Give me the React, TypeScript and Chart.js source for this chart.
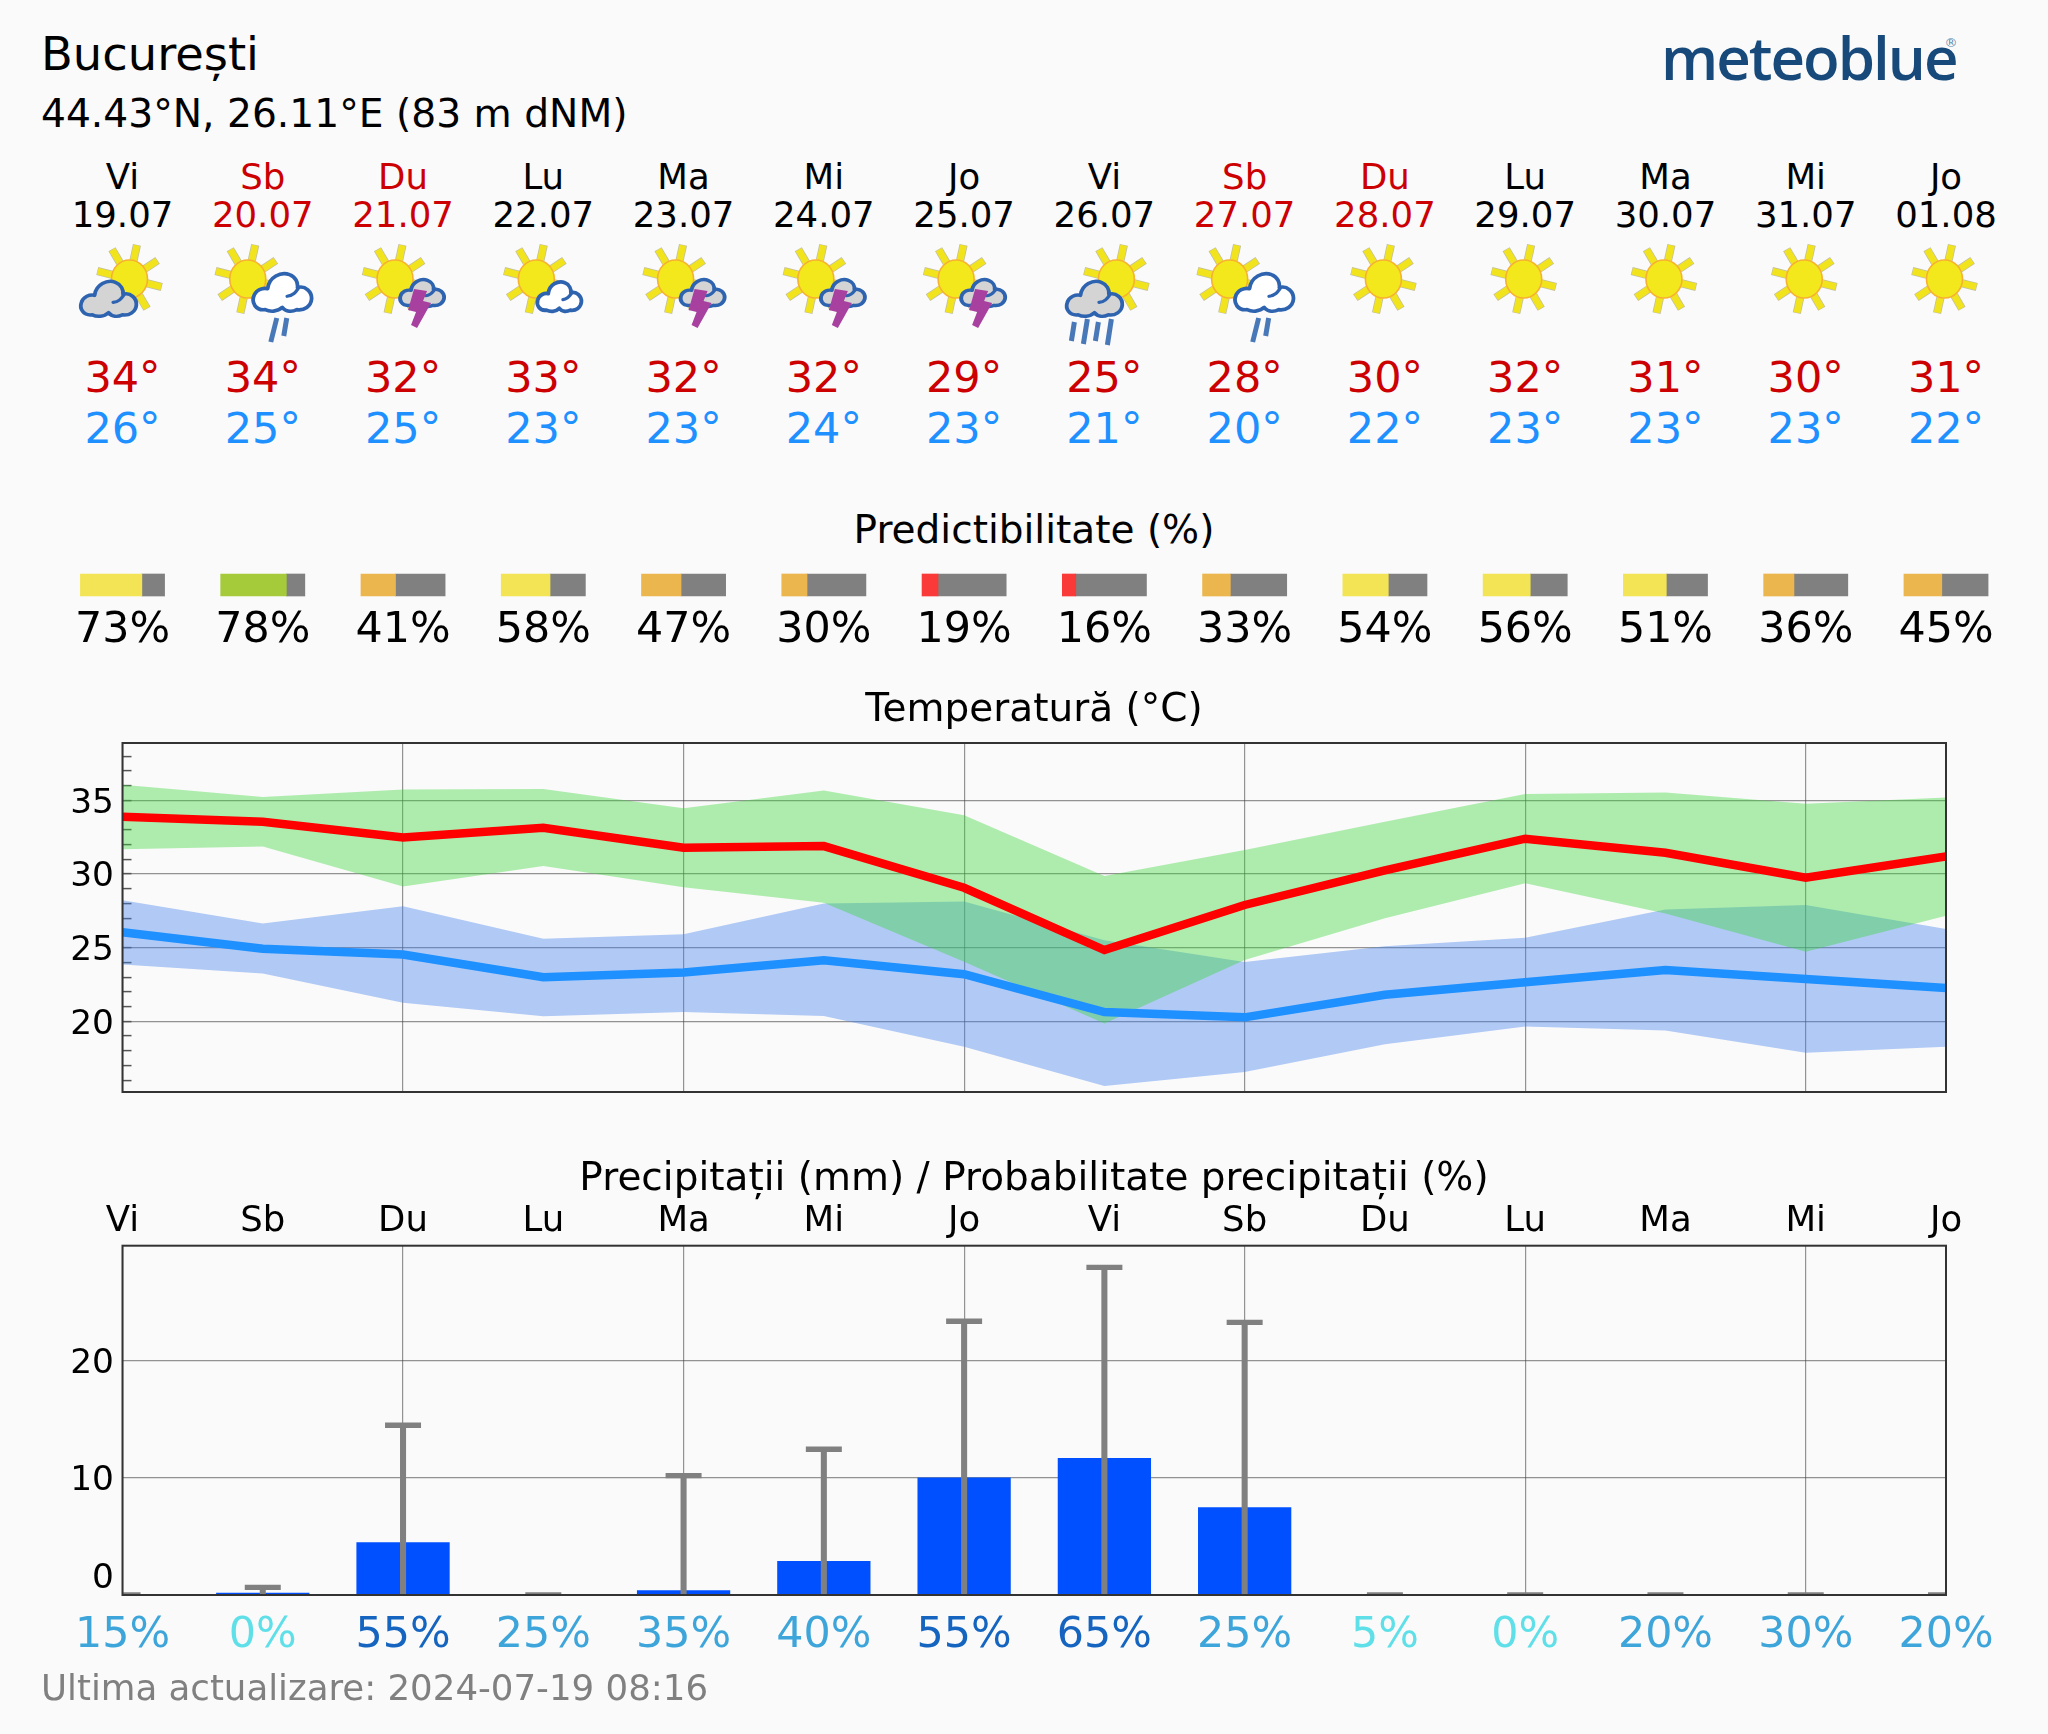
import React, { useEffect, useRef } from "react";
import { Chart, registerables } from "chart.js";

Chart.register(...registerables);

const dayNames = ["Vi", "Sb", "Du", "Lu", "Ma", "Mi", "Jo", "Vi", "Sb", "Du", "Lu", "Ma", "Mi", "Jo"];
const dates = ["19.07", "20.07", "21.07", "22.07", "23.07", "24.07", "25.07", "26.07", "27.07", "28.07", "29.07", "30.07", "31.07", "01.08"];
const highLabels = [34, 34, 32, 33, 32, 32, 29, 25, 28, 30, 32, 31, 30, 31];
const lowLabels = [26, 25, 25, 23, 23, 24, 23, 21, 20, 22, 23, 23, 23, 22];
const icons = ["c", "r", "t", "w", "t", "t", "t", "R", "r", "s", "s", "s", "s", "s"];
const predictability = [73, 78, 41, 58, 47, 30, 19, 16, 33, 54, 56, 51, 36, 45];

const tempMax = [33.9, 33.55, 32.48, 33.15, 31.79, 31.9, 29.07, 24.84, 27.9, 30.25, 32.4, 31.45, 29.75, 31.2];
const tempMaxHigh = [36.07, 35.24, 35.75, 35.78, 34.47, 35.68, 34.0, 29.86, 31.63, 33.55, 35.43, 35.54, 34.77, 35.2];
const tempMaxLow = [31.68, 31.87, 29.16, 30.55, 29.1, 28.05, 24.05, 19.86, 24.16, 27.0, 29.37, 27.33, 24.73, 27.17];
const tempMin = [26.05, 24.93, 24.53, 23.0, 23.32, 24.14, 23.2, 20.63, 20.27, 21.8, 22.65, 23.48, 22.87, 22.26];
const tempMinHigh = [28.22, 26.64, 27.82, 25.6, 25.92, 28.0, 28.14, 25.5, 24.03, 25.1, 25.68, 27.6, 27.9, 26.27];
const tempMinLow = [23.86, 23.24, 21.26, 20.35, 20.64, 20.36, 18.28, 15.6, 16.56, 18.44, 19.64, 19.37, 17.87, 18.28];
const tempTicks = [16, 17, 18, 19, 20, 21, 22, 23, 24, 25, 26, 27, 28, 29, 30, 31, 32, 33, 34, 35, 36, 37, 38];

const precipMm = [0, 0.2, 4.5, 0, 0.4, 2.9, 10.05, 11.7, 7.5, 0, 0, 0, 0, 0];
const precipMax = [0, 0.65, 14.5, 0, 10.2, 12.45, 23.4, 28, 23.3, 0, 0, 0, 0, 0];
const precipTicks = [0, 10, 20];
const rainChance = [15, 0, 55, 25, 35, 40, 55, 65, 25, 5, 0, 20, 30, 20];

const BG = "#fafafa";
const FONT = '"DejaVu Sans"';
const LEFT = 122.5;
const RIGHT = 1946;
const STEP = (RIGHT - LEFT) / 13;
const dayX = (i: number) => LEFT + STEP * i;

const predictColor = (p: number) => (p >= 75 ? "#a5cb3b" : p >= 50 ? "#f2e454" : p >= 25 ? "#ecb64e" : "#f93a38");
const chanceColor = (p: number) => (p <= 10 ? "#5fdfe8" : p < 50 ? "#3da5da" : "#1565c0");

const framePlugin = {
  id: "frame",
  afterDraw(chart: any) {
    const { ctx, chartArea: a } = chart;
    ctx.save();
    ctx.strokeStyle = "#333";
    ctx.lineWidth = 2;
    ctx.strokeRect(a.left, a.top, a.right - a.left, a.bottom - a.top);
    ctx.restore();
  },
};

function useChart(make: (c: HTMLCanvasElement) => Chart) {
  const ref = useRef<HTMLCanvasElement | null>(null);
  useEffect(() => {
    const chart = make(ref.current as HTMLCanvasElement);
    return () => chart.destroy();
  }, []);
  return ref;
}

const base = { responsive: false, animation: false as const, plugins: { legend: { display: false }, tooltip: { enabled: false } } };

function PredictChart() {
  const top = 560;
  const height = 100;
  const ref = useChart(
    (c) =>
      new Chart(c, {
        type: "bar",
        data: {
          labels: [""],
          datasets: predictability.flatMap((p, i) => [
            { data: [[i - 0.3, i - 0.3 + 0.6 * (p / 100)]], backgroundColor: predictColor(p), grouped: false, barPercentage: 1, categoryPercentage: 1, clip: false },
            { data: [[i - 0.3 + 0.6 * (p / 100), i + 0.3]], backgroundColor: "#808080", grouped: false, barPercentage: 1, categoryPercentage: 1, clip: false },
          ]) as any,
        },
        options: {
          ...base,
          indexAxis: "y",
          layout: { autoPadding: false, padding: { top: 574 - top, left: LEFT - STEP / 2, right: 2048 - RIGHT - STEP / 2, bottom: 0 } },
          scales: {
            x: {
              type: "linear",
              min: -0.5,
              max: 13.5,
              grid: { display: false },
              border: { display: false },
              afterBuildTicks: (s: any) => {
                s.ticks = predictability.map((_, i) => ({ value: i }));
              },
              afterFit: (s: any) => {
                s.height = height - (596 - top);
              },
              ticks: { autoSkip: false, maxRotation: 0, padding: 1.5, color: "#000", font: { family: FONT, size: 42.8 }, callback: (v: any) => `${predictability[v]}%` },
            },
            y: { display: false },
          },
        } as any,
      })
  );
  return <canvas ref={ref} width={2048} height={height} style={{ position: "absolute", left: 0, top }} />;
}

function TempChart() {
  const top = 690;
  const height = 450;
  const band = (data: number[], color: string, order: number, fill: any) => ({
    data,
    xAxisID: "x",
    borderWidth: 0,
    pointRadius: 0,
    backgroundColor: color,
    fill,
    order,
    tension: 0,
    clip: 0,
  });
  const line = (data: number[], color: string, order: number) => ({
    data,
    xAxisID: "x",
    borderColor: color,
    borderWidth: 8.5,
    borderJoinStyle: "miter",
    pointRadius: 0,
    fill: false,
    order,
    tension: 0,
    clip: 0,
  });
  const ref = useChart(
    (c) =>
      new Chart(c, {
        type: "line",
        data: {
          labels: dayNames,
          datasets: [
            band(tempMinHigh, "rgba(65,127,237,0.4)", 6, "+1"),
            band(tempMinLow, "rgba(65,127,237,0)", 5, false),
            band(tempMaxHigh, "rgba(60,215,60,0.4)", 4, "+1"),
            band(tempMaxLow, "rgba(60,215,60,0)", 3, false),
            line(tempMax, "#ff0000", 2),
            line(tempMin, "#1e90ff", 1),
          ] as any,
        },
        options: {
          ...base,
          layout: { autoPadding: false, padding: { top: 0, right: 2048 - RIGHT, bottom: 0, left: 0 } },
          scales: {
            x: {
              offset: false,
              border: { display: false },
              ticks: { display: false, autoSkip: false },
              grid: { offset: false, drawTicks: false, color: (ctx: any) => (ctx.index % 2 === 0 ? "rgba(60,60,60,0.55)" : "rgba(0,0,0,0)"), lineWidth: 1.2 },
              afterFit: (s: any) => {
                s.height = top + height - 1092;
              },
            },
            xTop: {
              type: "category",
              position: "top",
              labels: dayNames,
              offset: false,
              border: { display: false },
              ticks: { display: false },
              grid: { display: false, drawTicks: false },
              afterFit: (s: any) => {
                s.height = 743 - top;
              },
            },
            y: {
              min: 15.2,
              max: 38.9,
              border: { display: false },
              afterBuildTicks: (s: any) => {
                s.ticks = tempTicks.map((value) => ({ value }));
              },
              afterFit: (s: any) => {
                s.width = LEFT;
              },
              grid: {
                tickLength: -9,
                tickWidth: 1.5,
                tickColor: "#555",
                lineWidth: 1.2,
                color: (ctx: any) => (ctx.tick && ctx.tick.value % 5 === 0 ? "rgba(60,60,60,0.55)" : "rgba(0,0,0,0)"),
              },
              ticks: {
                autoSkip: false,
                padding: 17.5,
                color: "#000",
                font: { family: FONT, size: 34.4, lineHeight: "7px" },
                callback: (v: any) => (v % 5 === 0 ? ["", String(v)] : ""),
              },
            },
          },
        } as any,
        plugins: [framePlugin],
      })
  );
  return <canvas ref={ref} width={2048} height={height} style={{ position: "absolute", left: 0, top }} />;
}

function PrecipChart() {
  const top = 1190;
  const height = 480;
  const ref = useChart(
    (c) =>
      new Chart(c, {
        type: "bar",
        data: {
          labels: dayNames,
          datasets: [
            { data: precipMm, backgroundColor: "#0050ff", grouped: false, barPercentage: 0.665, categoryPercentage: 1, order: 3, clip: 0 },
            { data: precipMax.map((v) => [0, v]), backgroundColor: "#808080", grouped: false, barThickness: 5.4, order: 2, clip: 0 },
            { type: "line", data: precipMax, showLine: false, pointStyle: "line", pointRadius: 18, pointBorderWidth: 5.4, pointBorderColor: "#808080", order: 1, clip: 0 },
          ] as any,
        },
        options: {
          ...base,
          layout: { autoPadding: false, padding: { right: 2048 - RIGHT, left: 0, top: 0, bottom: 0 } },
          scales: {
            x: {
              position: "top",
              offset: false,
              border: { display: false },
              grid: { offset: false, drawTicks: false, color: (ctx: any) => (ctx.index % 2 === 0 ? "rgba(60,60,60,0.55)" : "rgba(0,0,0,0)"), lineWidth: 1.2 },
              ticks: { autoSkip: false, maxRotation: 0, padding: 3, color: "#000", font: { family: FONT, size: 35.5 } },
              afterFit: (s: any) => {
                s.height = 1245.7 - top;
              },
            },
            x2: {
              type: "category",
              position: "bottom",
              offset: false,
              labels: rainChance.map((p) => `${p}%`),
              border: { display: false },
              grid: { display: false, drawTicks: false },
              ticks: { autoSkip: false, maxRotation: 0, padding: 15, color: (ctx: any) => chanceColor(rainChance[ctx.index]), font: { family: FONT, size: 42.8 } },
              afterFit: (s: any) => {
                s.height = top + height - 1595;
              },
            },
            y: {
              min: 0,
              max: 29.85,
              border: { display: false },
              afterBuildTicks: (s: any) => {
                s.ticks = precipTicks.map((value) => ({ value }));
              },
              afterFit: (s: any) => {
                s.width = LEFT;
              },
              grid: { drawTicks: false, lineWidth: 1.2, color: "rgba(60,60,60,0.55)" },
              ticks: {
                autoSkip: false,
                padding: 8.5,
                color: "#000",
                font: (ctx: any) => ({ family: FONT, size: 34.4, lineHeight: ctx.tick && ctx.tick.value === 0 ? "32px" : "7px" }),
                callback: (v: any) => (v === 0 ? ["0", ""] : ["", String(v)]),
              },
            },
          },
        } as any,
        plugins: [framePlugin],
      })
  );
  return <canvas ref={ref} width={2048} height={height} style={{ position: "absolute", left: 0, top }} />;
}

function T({ x, y, children, size = 35.5, color = "#000", align = "center", style = {} }: any) {
  const tx = align === "center" ? "-50%" : "0";
  return (
    <div style={{ position: "absolute", left: x, top: y, transform: `translate(${tx},-50%)`, fontFamily: FONT, fontSize: size, color, lineHeight: 1, whiteSpace: "nowrap", ...style }}>
      {children}
    </div>
  );
}

const SUN_Y = 279;
const RAY_ANGLES = [13, 58, 103, 148, 193, 238, 283, 328];

function Sun({ cx }: { cx: number }) {
  const ray = (a: number, stroke: string, w: number, grow: number) => {
    const r = (a * Math.PI) / 180;
    return (
      <line
        key={`${a}-${stroke}`}
        x1={cx + Math.cos(r) * 18}
        y1={SUN_Y + Math.sin(r) * 19}
        x2={cx + Math.cos(r) * (32.5 + grow)}
        y2={SUN_Y + Math.sin(r) * (34.5 + grow)}
        stroke={stroke}
        strokeWidth={w}
      />
    );
  };
  return (
    <g>
      {RAY_ANGLES.map((a) => ray(a, "#c4c09a", 8.2, 0.6))}
      {RAY_ANGLES.map((a) => ray(a, "#f2e41e", 6.6, 0))}
      <ellipse cx={cx} cy={SUN_Y} rx={18} ry={19} fill="#f2e81a" stroke="#f8b030" strokeWidth={1.6} />
    </g>
  );
}

function Cloud({ x, y, w, h, fill }: { x: number; y: number; w: number; h: number; fill: string }) {
  const sw = 100 / w;
  const k = h / 72;
  const s = w / 100;
  return (
    <g transform={`translate(${x},${y}) scale(${s},${k})`}>
      <path
        d="M22 68 C6 70 0 56 3 46 C6 34 18 30 26 32 C28 12 48 2 62 8 C72 12 76 22 75 30 C88 26 99 38 98 50 C97 62 86 70 74 68 C66 72 56 72 50 64 C42 72 30 72 22 68 Z"
        fill={fill}
        stroke="#2f63b0"
        strokeWidth={3.8 * sw}
        strokeLinejoin="round"
      />
      <path d="M76 32 C72 38 68 44 58 45" fill="none" stroke="#2f63b0" strokeWidth={3.4 * sw} strokeLinecap="round" />
    </g>
  );
}

function Rain({ lines }: { lines: number[][] }) {
  return (
    <g>
      {lines.map((l, i) => (
        <line key={i} x1={l[0]} y1={l[1]} x2={l[2]} y2={l[3]} stroke="#4a78b8" strokeWidth={5} />
      ))}
    </g>
  );
}

function WeatherIcon({ kind, cx }: { kind: string; cx: number }) {
  if (kind === "c")
    return (
      <g>
        <Sun cx={cx + 7} />
        <Cloud x={cx - 43} y={278} w={58} h={39} fill="#d4d4d4" />
      </g>
    );
  if (kind === "R")
    return (
      <g>
        <Sun cx={cx + 12} />
        <Cloud x={cx - 39} y={278} w={58} h={39} fill="#d4d4d4" />
        <Rain
          lines={[
            [cx - 30, 322, cx - 33, 341],
            [cx - 17, 319, cx - 21, 344],
            [cx - 6, 322, cx - 9, 341],
            [cx + 7, 319, cx + 3, 345],
          ]}
        />
      </g>
    );
  if (kind === "r")
    return (
      <g>
        <Sun cx={cx - 15} />
        <Cloud x={cx - 11} y={270} w={61} h={42} fill="#ffffff" />
        <Rain
          lines={[
            [cx + 14, 318, cx + 8, 342],
            [cx + 24, 318, cx + 21, 336],
          ]}
        />
      </g>
    );
  if (kind === "t")
    return (
      <g>
        <Sun cx={cx - 8} />
        <Cloud x={cx - 4} y={277} w={46} h={30} fill="#d4d4d4" />
        <path
          d={`M${cx + 11} 289 L${cx + 24} 291 L${cx + 20} 301 L${cx + 28} 303 L${cx + 14} 328 L${cx + 8} 325 L${cx + 13} 312 L${cx + 5} 310 Z`}
          fill="#a840a0"
        />
      </g>
    );
  if (kind === "w")
    return (
      <g>
        <Sun cx={cx - 7} />
        <Cloud x={cx - 7} y={279} w={46} h={33} fill="#ffffff" />
      </g>
    );
  return <Sun cx={cx - 1.5} />;
}

export default function App() {
  return (
    <div style={{ position: "absolute", left: 0, top: 0, width: 2048, height: 1734, background: BG, overflow: "hidden" }}>
      <T x={41} y={54} size={46.4} align="left">București</T>
      <T x={41} y={114} size={39.2} align="left">44.43°N, 26.11°E (83 m dNM)</T>
      <div style={{ position: "absolute", left: 1661, top: 27, fontFamily: '"Open Sans"', fontWeight: 600, fontSize: 60, letterSpacing: -2, color: "#17497a", lineHeight: 1, whiteSpace: "nowrap" }}>meteoblue</div>
      <T x={1951} y={42} size={13} color="#5a8ab0">®</T>

      {dayNames.map((d, i) => {
        const red = d === "Sb" || d === "Du";
        const c = red ? "#cc0000" : "#000";
        return (
          <React.Fragment key={i}>
            <T x={dayX(i)} y={177} color={c}>{d}</T>
            <T x={dayX(i)} y={215} color={c}>{dates[i]}</T>
            <T x={dayX(i)} y={377} size={43} color="#cc0000">{highLabels[i]}°</T>
            <T x={dayX(i)} y={428} size={43} color="#1e90ff">{lowLabels[i]}°</T>
          </React.Fragment>
        );
      })}

      <svg width={2048} height={400} style={{ position: "absolute", left: 0, top: 0 }}>
        <defs>
          <filter id="soft">
            <feGaussianBlur stdDeviation="0.6" />
          </filter>
        </defs>
        <g filter="url(#soft)">
          {icons.map((k, i) => (
            <WeatherIcon key={i} kind={k} cx={dayX(i)} />
          ))}
        </g>
      </svg>

      <T x={1034} y={529} size={39}>Predictibilitate (%)</T>
      <PredictChart />
      <TempChart />
      <T x={1034} y={707} size={39}>Temperatură (°C)</T>
      <PrecipChart />
      <T x={1034} y={1176} size={39}>Precipitații (mm) / Probabilitate precipitații (%)</T>
      <T x={41} y={1688} size={35.6} color="#808080" align="left">Ultima actualizare: 2024-07-19 08:16</T>
    </div>
  );
}
